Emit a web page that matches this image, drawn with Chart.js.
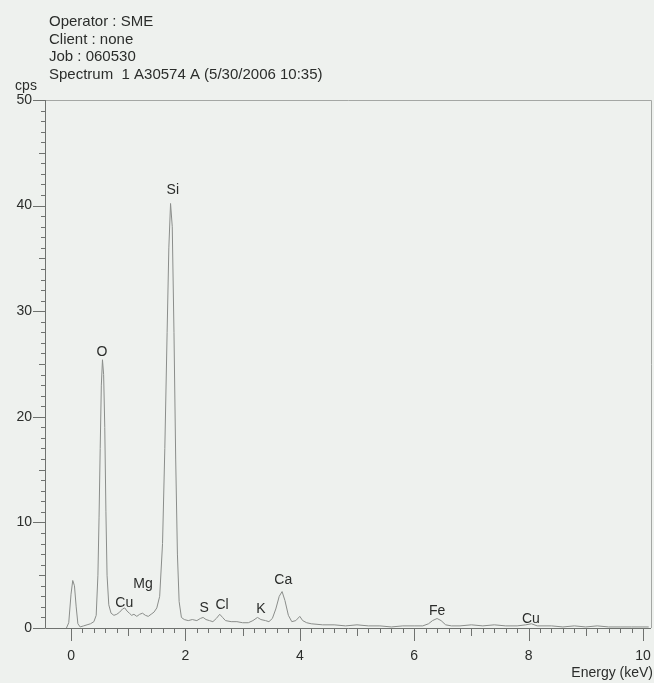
<!DOCTYPE html>
<html>
<head>
<meta charset="utf-8">
<script src="https://cdn.jsdelivr.net/npm/chart.js@4/dist/chart.umd.min.js"></script>
<style>
  html, body { margin: 0; padding: 0; background: #eef1ee; }
  #wrap { width: 654px; height: 683px; position: relative; }
</style>
</head>
<body>
<div id="wrap"><canvas id="myChart" width="654" height="683"></canvas></div>
<script>
// spectrum (keV, cps)
var energyKeV = [-0.08, -0.04, 0.0, 0.03, 0.06, 0.09, 0.12, 0.16, 0.22, 0.28, 0.34, 0.40,
  0.44, 0.47, 0.49, 0.51, 0.53, 0.55, 0.57, 0.59, 0.61, 0.63, 0.66, 0.70, 0.75, 0.80,
  0.85, 0.90, 0.94, 0.98, 1.02, 1.06, 1.10, 1.15, 1.20, 1.25, 1.30, 1.35, 1.40, 1.45,
  1.50, 1.55, 1.60, 1.64, 1.68, 1.71, 1.74, 1.77, 1.80, 1.83, 1.86, 1.89, 1.93, 1.98,
  2.05, 2.12, 2.20, 2.26, 2.31, 2.36, 2.42, 2.48, 2.54, 2.60, 2.65, 2.70, 2.80, 2.90,
  3.00, 3.10, 3.18, 3.26, 3.32, 3.40, 3.46, 3.52, 3.58, 3.64, 3.69, 3.74, 3.80, 3.86,
  3.93, 4.00, 4.05, 4.12, 4.20, 4.40, 4.60, 4.80, 5.00, 5.20, 5.40, 5.60, 5.80, 6.00,
  6.15, 6.25, 6.32, 6.40, 6.47, 6.55, 6.65, 6.80, 7.00, 7.20, 7.40, 7.60, 7.80, 7.95,
  8.05, 8.15, 8.40, 8.60, 8.80, 9.00, 9.20, 9.40, 9.60, 9.80, 10.0, 10.1];
var countsCps = [0.0, 0.5, 3.2, 4.5, 4.0, 2.0, 0.4, 0.1, 0.2, 0.3, 0.4, 0.6,
  1.2, 5, 10.5, 17, 23, 25.4, 24, 19, 11, 5, 2.2, 1.4, 1.2, 1.3,
  1.5, 1.8, 1.9, 1.6, 1.4, 1.2, 1.3, 1.1, 1.3, 1.4, 1.2, 1.1, 1.3, 1.5,
  1.9, 3, 8, 17, 28, 36, 40.2, 38, 28, 16, 7, 2.5, 1.0, 0.8,
  0.7, 0.8, 0.7, 0.9, 1.0, 0.8, 0.7, 0.6, 0.9, 1.3, 1.0, 0.7, 0.6, 0.6,
  0.5, 0.5, 0.7, 1.0, 0.8, 0.7, 0.6, 0.9, 1.8, 3.0, 3.45, 2.6, 1.2, 0.6,
  0.7, 1.1, 0.7, 0.5, 0.4, 0.3, 0.3, 0.2, 0.3, 0.2, 0.2, 0.1, 0.2, 0.2,
  0.2, 0.4, 0.7, 0.9, 0.7, 0.3, 0.2, 0.2, 0.3, 0.2, 0.3, 0.2, 0.2, 0.3,
  0.4, 0.2, 0.2, 0.1, 0.2, 0.1, 0.2, 0.1, 0.1, 0.1, 0.1, 0.1];

// element labels (label centre in keV / cps)
var peakNames = ["O", "Si", "Cu", "Mg", "S", "Cl", "K", "Ca", "Fe", "Cu"];
var peakEnergy = [0.54, 1.78, 0.93, 1.26, 2.33, 2.64, 3.32, 3.71, 6.40, 8.04];
var peakLabelCps = [26.1, 41.5, 2.4, 4.2, 1.9, 2.2, 1.8, 4.5, 1.6, 0.85];

var headerLines = ["Operator : SME", "Client : none", "Job : 060530",
  "Spectrum  1 A30574 A (5/30/2006 10:35)"];
var xTickLabels = [0, 2, 4, 6, 8, 10];
var yTickLabels = [0, 10, 20, 30, 40, 50];

var txtColor = "#2b2d2b";
var axisColor = "#6f726f";
var fontFam = "'Liberation Sans', Arial, sans-serif";

// ticks, frame, peak names and header text
var decoPlugin = {
  id: "deco",
  afterDraw: function (chart) {
    var ctx = chart.ctx;
    var xs = chart.scales.x, ys = chart.scales.y, area = chart.chartArea;
    ctx.save();
    // frame
    ctx.strokeStyle = "#a4a7a4";
    ctx.lineWidth = 1;
    ctx.beginPath();
    ctx.moveTo(area.left, area.top + 0.5);
    ctx.lineTo(area.right + 0.5, area.top + 0.5);
    ctx.lineTo(area.right + 0.5, area.bottom);
    ctx.stroke();
    // axes
    ctx.strokeStyle = axisColor;
    ctx.beginPath();
    ctx.moveTo(area.left + 0.5, area.top);
    ctx.lineTo(area.left + 0.5, area.bottom + 0.5);
    ctx.lineTo(area.right, area.bottom + 0.5);
    ctx.stroke();
    // x ticks every 0.2 keV
    ctx.beginPath();
    for (var i = 0; i <= 50; i++) {
      var v = i / 5;
      var px = Math.round(xs.getPixelForValue(v)) + 0.5;
      var len = (i % 10 == 0) ? 13 : ((i % 5 == 0) ? 8 : 5);
      ctx.moveTo(px, area.bottom);
      ctx.lineTo(px, area.bottom + len);
    }
    // y ticks every 1 cps
    for (var j = 0; j <= 50; j++) {
      var py = Math.round(ys.getPixelForValue(j)) + 0.5;
      var l = (j % 10 == 0) ? 12 : ((j % 5 == 0) ? 6 : 4);
      ctx.moveTo(area.left - l, py);
      ctx.lineTo(area.left, py);
    }
    ctx.stroke();
    // element names
    ctx.fillStyle = txtColor;
    ctx.font = "14px " + fontFam;
    ctx.textAlign = "center";
    ctx.textBaseline = "middle";
    for (var k = 0; k < peakNames.length; k++) {
      ctx.fillText(peakNames[k], xs.getPixelForValue(peakEnergy[k]), ys.getPixelForValue(peakLabelCps[k]));
    }
    // header
    ctx.textAlign = "left";
    ctx.font = "15px " + fontFam;
    for (var h = 0; h < headerLines.length; h++) {
      ctx.fillText(headerLines[h], 49, 22 + h * 17.5);
    }
    ctx.textAlign = "center";
    ctx.font = "14px " + fontFam;
    ctx.fillText("cps", 26, 86);
    ctx.textAlign = "right";
    ctx.fillText("Energy (keV)", 653, 673);
    ctx.restore();
  }
};

var points = energyKeV.map(function (e, i) { return { x: e, y: countsCps[i] }; });

var ctx = document.getElementById("myChart");
var myChart = new Chart(ctx, {
  type: "line",
  data: {
    datasets: [{
      label: "Spectrum 1",
      data: points,
      borderColor: "#8a8d8a",
      borderWidth: 1,
      pointRadius: 0,
      tension: 0,
      fill: false
    }]
  },
  options: {
    responsive: false,
    animation: false,
    layout: { padding: { top: 100, right: 3, left: 0, bottom: 0 } },
    plugins: {
      legend: { display: false },
      tooltip: { enabled: false }
    },
    scales: {
      x: {
        type: "linear",
        min: -0.455,
        max: 10.14,
        afterFit: function (scale) {
          scale.height = 55;
          scale.paddingLeft = 0;
          scale.paddingRight = 0;
        },
        afterBuildTicks: function (scale) {
          scale.ticks = xTickLabels.map(function (v) { return { value: v }; });
        },
        grid: { display: false, drawTicks: false },
        border: { display: false },
        ticks: {
          autoSkip: false,
          maxRotation: 0,
          padding: 20,
          color: txtColor,
          font: { family: fontFam, size: 14 },
          callback: function (v) { return v; }
        }
      },
      y: {
        min: 0,
        max: 50,
        afterFit: function (scale) {
          scale.width = 45;
          scale.paddingTop = 0;
          scale.paddingBottom = 0;
        },
        afterBuildTicks: function (scale) {
          scale.ticks = yTickLabels.map(function (v) { return { value: v }; });
        },
        grid: { display: false, drawTicks: false },
        border: { display: false },
        ticks: {
          padding: 13,
          color: txtColor,
          font: { family: fontFam, size: 14 },
          callback: function (v) { return v; }
        }
      }
    }
  },
  plugins: [decoPlugin]
});
</script>
</body>
</html>
